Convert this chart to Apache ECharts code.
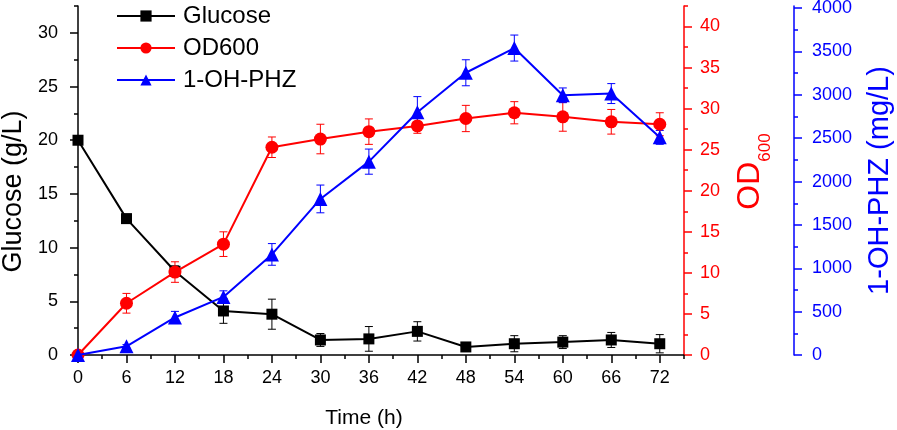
<!DOCTYPE html>
<html>
<head>
<meta charset="utf-8">
<script src="https://cdn.jsdelivr.net/npm/echarts@6/dist/echarts.min.js"></script>
<style>
html,body{margin:0;padding:0;background:#fff;}
#c{width:897px;height:430px;}
</style>
</head>
<body>
<div id="c"></div>
<script>
// ---- data ----
const times = [0, 6, 12, 18, 24, 30, 36, 42, 48, 54, 60, 66, 72];
const glucose = [20, 12.7, 7.8, 4.1, 3.8, 1.4, 1.5, 2.2, 0.75, 1.05, 1.2, 1.4, 1.05];
const glucoseErr = [0, 0.4, 0.5, 1.15, 1.4, 0.6, 1.15, 0.9, 0.2, 0.75, 0.6, 0.7, 0.85];
const od600 = [0, 6.3, 10.1, 13.5, 25.3, 26.3, 27.2, 27.9, 28.8, 29.5, 29.0, 28.4, 28.1];
const od600Err = [0, 1.2, 1.25, 1.5, 1.25, 1.8, 1.55, 0.9, 1.6, 1.35, 1.75, 1.5, 1.4];
const phz = [0, 100, 433, 670, 1160, 1800, 2230, 2800, 3255, 3540, 2995, 3015, 2510];
const phzErr = [0, 20, 70, 70, 125, 160, 145, 180, 150, 150, 85, 115, 80];
const xMajorTicks = [0, 6, 12, 18, 24, 30, 36, 42, 48, 54, 60, 66, 72];
const xMinorTicks = [3, 9, 15, 21, 27, 33, 39, 45, 51, 57, 63, 69, 75];
const glucoseTicks = [0, 5, 10, 15, 20, 25, 30];
const glucoseMinor = [2.5, 7.5, 12.5, 17.5, 22.5, 27.5, 32.5];
const odTicks = [0, 5, 10, 15, 20, 25, 30, 35, 40];
const odMinor = [2.5, 7.5, 12.5, 17.5, 22.5, 27.5, 32.5, 37.5, 42.5];
const phzTicks = [0, 500, 1000, 1500, 2000, 2500, 3000, 3500, 4000];
const phzMinor = [250, 750, 1250, 1750, 2250, 2750, 3250, 3750];

const FONT = 'Liberation Sans, Arial, sans-serif';
const BLACK = '#000000', RED = '#ff0000', BLUE = '#0000ff';

function pairs(vals) { return times.map((t, i) => [t, vals[i]]); }
function triples(vals, errs) { return times.map((t, i) => [t, vals[i], errs[i]]); }
const plain = v => String(v);

function errRenderer(color) {
  return function (params, api) {
    const x = api.value(0), y = api.value(1), e = api.value(2);
    if (!e) return null;
    const lo = api.coord([x, y - e]);
    const hi = api.coord([x, y + e]);
    const w = 4;
    const st = { stroke: color, lineWidth: 1 };
    return {
      type: 'group',
      children: [
        { type: 'line', shape: { x1: lo[0], y1: lo[1], x2: hi[0], y2: hi[1] }, style: st },
        { type: 'line', shape: { x1: lo[0] - w, y1: lo[1], x2: lo[0] + w, y2: lo[1] }, style: st },
        { type: 'line', shape: { x1: hi[0] - w, y1: hi[1], x2: hi[0] + w, y2: hi[1] }, style: st }
      ]
    };
  };
}

function mainAxis(color, extra) {
  return Object.assign({
    type: 'value',
    splitLine: { show: false },
    axisLine: { show: true, onZero: false, lineStyle: { color: color, width: 1.5 } },
    nameTextStyle: { color: color, fontFamily: FONT }
  }, extra);
}
function minorAxis(color, extra, vals) {
  return Object.assign({
    type: 'value',
    splitLine: { show: false },
    axisLine: { show: false, onZero: false },
    axisLabel: { show: false },
    axisTick: { show: true, length: 4, customValues: vals, lineStyle: { color: color, width: 1.5 } }
  }, extra);
}

const chart = echarts.init(document.getElementById('c'));
chart.setOption({
  animation: false,
  backgroundColor: '#ffffff',
  grid: { left: 78, right: 213, top: 6, bottom: 75, containLabel: false, outerBoundsMode: 'none' },
  legend: {
    left: 111, top: -1, orient: 'vertical',
    itemWidth: 58, itemHeight: 14, itemGap: 8,
    textStyle: { fontSize: 24, lineHeight: 24, fontFamily: FONT, color: '#000', padding: [0, 0, 0, 3] },
    data: ['Glucose', 'OD600', '1-OH-PHZ']
  },
  xAxis: [
    mainAxis(BLACK, {
      min: 0, max: 75, interval: 3, position: 'bottom',
      axisTick: { show: true, length: 8, customValues: xMajorTicks, lineStyle: { color: BLACK, width: 1.5 } },
      axisLabel: { color: BLACK, fontSize: 18, fontFamily: FONT, margin: 14, customValues: xMajorTicks, formatter: plain },
      name: 'Time (h)', nameLocation: 'middle', nameGap: 53,
      nameTextStyle: { color: BLACK, fontSize: 21, fontFamily: FONT, padding: [0, 34, 0, 0] }
    }),
    minorAxis(BLACK, { min: 0, max: 75, interval: 3, position: 'bottom' }, xMinorTicks)
  ],
  yAxis: [
    mainAxis(BLACK, {
      min: 0, max: 32.5, interval: 2.5, position: 'left',
      axisTick: { show: true, length: 8, customValues: glucoseTicks, lineStyle: { color: BLACK, width: 1.5 } },
      axisLabel: { color: BLACK, fontSize: 18, fontFamily: FONT, margin: 20, customValues: glucoseTicks, formatter: plain },
      name: 'Glucose (g/L)', nameLocation: 'middle', nameGap: 50,
      nameTextStyle: { color: BLACK, fontSize: 27, fontFamily: FONT, padding: [0, 22, 0, 0] }
    }),
    mainAxis(RED, {
      min: 0, max: 42.5, interval: 2.5, position: 'right', offset: 0,
      axisTick: { show: true, length: 8, customValues: odTicks, lineStyle: { color: RED, width: 1.5 } },
      axisLabel: { color: RED, fontSize: 18, fontFamily: FONT, margin: 16, customValues: odTicks, formatter: plain },
      name: '{a|OD}{b|600}', nameLocation: 'middle', nameGap: 58,
      nameTextStyle: {
        color: RED, fontFamily: FONT, padding: [0, 0, 0, 18],
        rich: {
          a: { fontSize: 32, lineHeight: 32, color: RED, fontFamily: FONT, padding: [0, 0, 16, 0] },
          b: { fontSize: 17, lineHeight: 17, color: RED, fontFamily: FONT, verticalAlign: 'bottom' }
        }
      }
    }),
    mainAxis(BLUE, {
      min: 0, max: 4025, interval: 250, position: 'right', offset: 110,
      axisTick: { show: true, length: 8, customValues: phzTicks, lineStyle: { color: BLUE, width: 1.5 } },
      axisLabel: { color: BLUE, fontSize: 18, fontFamily: FONT, margin: 18, customValues: phzTicks, formatter: plain },
      name: '1-OH-PHZ (mg/L)', nameLocation: 'middle', nameGap: 71,
      nameTextStyle: { color: BLUE, fontSize: 29, fontFamily: FONT }
    }),
    minorAxis(BLACK, { min: 0, max: 32.5, interval: 2.5, position: 'left', offset: 0 }, glucoseMinor),
    minorAxis(RED, { min: 0, max: 42.5, interval: 2.5, position: 'right', offset: 0 }, odMinor),
    minorAxis(BLUE, { min: 0, max: 4025, interval: 250, position: 'right', offset: 110 }, phzMinor)
  ],
  series: [
    { type: 'custom', name: 'glucoseErr', yAxisIndex: 0, z: 1, renderItem: errRenderer(BLACK),
      data: triples(glucose, glucoseErr), encode: { x: 0, y: 1 }, silent: true },
    { type: 'custom', name: 'odErr', yAxisIndex: 1, z: 1, renderItem: errRenderer(RED),
      data: triples(od600, od600Err), encode: { x: 0, y: 1 }, silent: true },
    { type: 'custom', name: 'phzErr', yAxisIndex: 2, z: 1, renderItem: errRenderer(BLUE),
      data: triples(phz, phzErr), encode: { x: 0, y: 1 }, silent: true },
    { type: 'line', name: 'Glucose', yAxisIndex: 0, z: 3, data: pairs(glucose),
      symbol: 'rect', symbolSize: 11, color: BLACK,
      lineStyle: { color: BLACK, width: 2 }, itemStyle: { color: BLACK } },
    { type: 'line', name: 'OD600', yAxisIndex: 1, z: 4, data: pairs(od600),
      symbol: 'circle', symbolSize: 13, color: RED,
      lineStyle: { color: RED, width: 2 }, itemStyle: { color: RED } },
    { type: 'line', name: '1-OH-PHZ', yAxisIndex: 2, z: 5, data: pairs(phz),
      symbol: 'triangle', symbolSize: 14, color: BLUE,
      lineStyle: { color: BLUE, width: 2 }, itemStyle: { color: BLUE } }
  ]
});
</script>
</body>
</html>
